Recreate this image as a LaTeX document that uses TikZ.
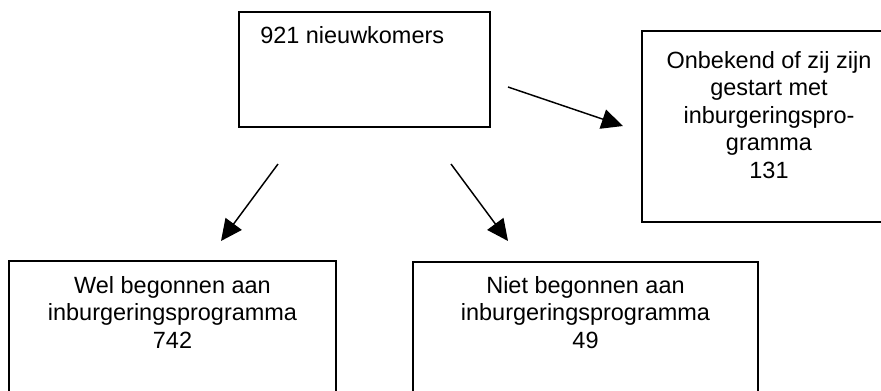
\documentclass[tikz,border=0pt]{standalone}
\usepackage{fontspec}
\setmainfont{Liberation Sans}
\usetikzlibrary{arrows.meta}
\begin{document}
\begin{tikzpicture}[x=0.75pt,y=-0.75pt,
  box/.style={draw=black, line width=1.1pt, inner sep=0pt},
  lbl/.style={font=\fontsize{17.6pt}{20.6pt}\selectfont, align=center, inner sep=0pt},
  link/.style={line width=1.1pt, -{Triangle[length=16pt,width=15pt]}}]
\useasboundingbox (0,0) rectangle (881,390);
\clip (0,0) rectangle (881,390);

% boxes
\node[box, minimum width=188.25pt, minimum height=86.25pt] (topbox) at (364.5,69.5) {};
\node[box, minimum width=190.5pt, minimum height=143.25pt] (rightbox) at (769,126.5) {};
\node[box, minimum width=245.25pt, minimum height=111.75pt] (leftbox) at (172.5,335.5) {};
\node[box, minimum width=258.75pt, minimum height=111pt] (midbox) at (585.5,336) {};

% texts
\node[lbl, anchor=base west] (toptext) at (260,43) {921 nieuwkomers};
\node[lbl, anchor=north] (righttext) at (769,51) {Onbekend of zij zijn\\gestart met\\inburgeringspro-\\gramma\\131};
\node[lbl, anchor=north] (lefttext) at (172.5,276) {Wel begonnen aan\\inburgeringsprogramma\\742};
\node[lbl, anchor=north] (midtext) at (585.5,276) {Niet begonnen aan\\inburgeringsprogramma\\49};

% arrow end points
\coordinate (r0) at (508,87);
\coordinate (r1) at (623,126);
\coordinate (l0) at (278,164);
\coordinate (l1) at (221,241);
\coordinate (m0) at (451,164);
\coordinate (m1) at (508,241);

\draw[link] (r0) -- (r1);
\draw[link] (l0) -- (l1);
\draw[link] (m0) -- (m1);
\end{tikzpicture}
\end{document}
